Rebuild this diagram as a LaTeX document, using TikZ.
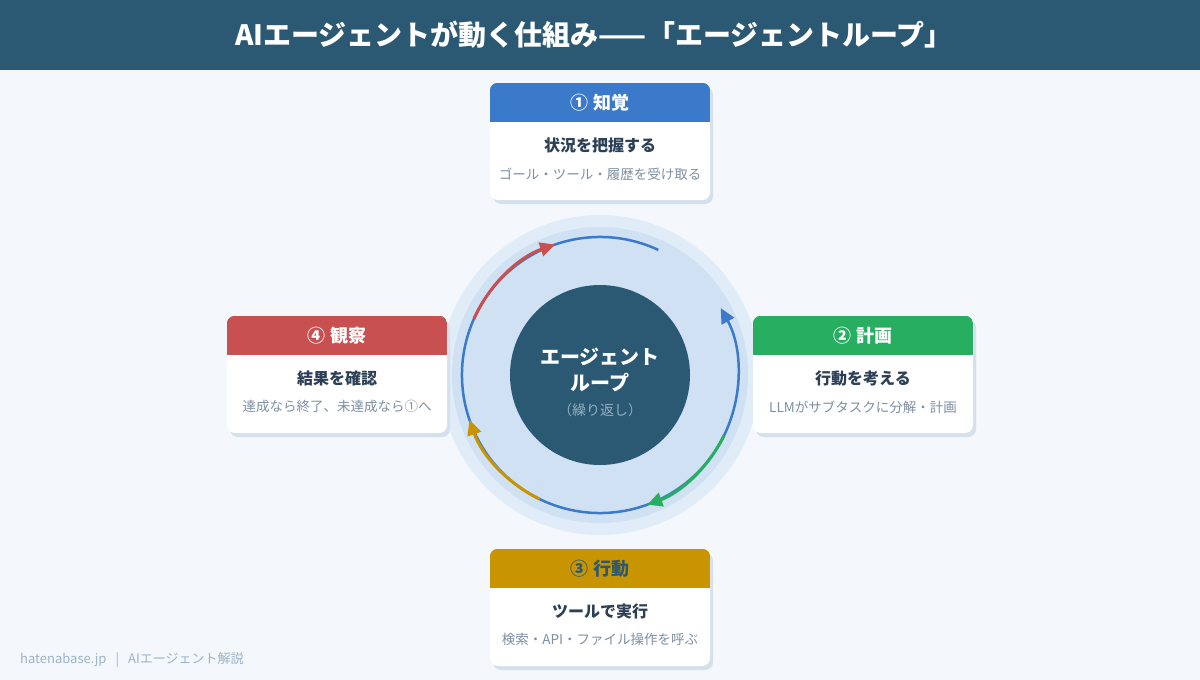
\documentclass[tikz,border=0pt]{standalone}
\usepackage{fontspec}
\setmainfont{Noto Sans CJK JP}
\usetikzlibrary{calc,arrows.meta}

\definecolor{headbg}{HTML}{2B5872}
\definecolor{pagebg}{HTML}{F4F8FC}
\definecolor{halo}{HTML}{E0ECF7}
\definecolor{ring}{HTML}{CFE1F2}
\definecolor{percblue}{HTML}{3B7ACB}
\definecolor{plangreen}{HTML}{27AE60}
\definecolor{actgold}{HTML}{C89500}
\definecolor{obsred}{HTML}{C85050}
\definecolor{bodyink}{HTML}{2B3F55}
\definecolor{subink}{HTML}{7D8FA1}
\definecolor{shade}{HTML}{D4E0EC}
\definecolor{footink}{HTML}{9DB2C6}
\definecolor{loopsub}{HTML}{93AEC4}

\tikzset{
  cardbox/.style={fill=white, rounded corners=8pt, minimum width=220pt, minimum height=117pt, inner sep=0pt},
  cardshade/.style={fill=shade, rounded corners=8pt, minimum width=220pt, minimum height=117pt, inner sep=0pt},
  cardtitle/.style={font=\fontsize{18}{21}\selectfont\bfseries},
  cardbody/.style={font=\fontsize{16}{19}\selectfont\bfseries, text=bodyink},
  cardsub/.style={font=\fontsize{13.5}{16}\selectfont, text=subink},
  looparc/.style={line width=3pt, -{Triangle[length=15pt, width=14pt]}}
}

% card: name, centre, colour, title colour, title, body, sub
\newcommand{\stepcard}[7]{%
  \node[cardshade] at ($#2+(3,4)$) {};
  \node[cardbox] (#1) at #2 {};
  \begin{scope}
    \clip[rounded corners=8pt] (#1.south west) rectangle (#1.north east);
    \fill[#3] (#1.north west) rectangle ([yshift=-39pt]#1.north east);
  \end{scope}
  \node[cardtitle, text=#4] (#1-t) at ([yshift=-19.5pt]#1.north) {#5};
  \node[cardbody] (#1-b) at ([yshift=-63pt]#1.north) {#6};
  \node[cardsub] (#1-s) at ([yshift=-91pt]#1.north) {#7};
}

\begin{document}
\begin{tikzpicture}[x=1pt, y=-1pt]
	\useasboundingbox (0,0) rectangle (1200,680);
	\fill[pagebg] (0,0) rectangle (1200,680);
	\fill[headbg] (0,0) rectangle (1200,70);
	\node[text=white, font=\fontsize{28}{32}\selectfont\bfseries] (title) at (594,35) {AIエージェントが動く仕組み——「エージェントループ」};

	% loop
	\coordinate (loopc) at (600,375);
	\fill[halo] (loopc) circle (160pt);
	\fill[ring] (loopc) circle (148pt);
	\draw[percblue, line width=2.5pt, -{Triangle[length=15pt, width=14pt]}] ([shift={(65:138pt)}]loopc) arc[start angle=65, end angle=389, radius=138pt];
	\draw[looparc, obsred] ([shift={(156:138pt)}]loopc) arc[start angle=156, end angle=109, radius=138pt];
	\draw[looparc, plangreen] ([shift={(-26:138pt)}]loopc) arc[start angle=-26, end angle=-70, radius=138pt];
	\draw[looparc, actgold] ([shift={(-116:138pt)}]loopc) arc[start angle=-116, end angle=-161, radius=138pt];
	\fill[headbg] (loopc) circle (90pt);
	\node[text=white, font=\fontsize{20}{26}\selectfont\bfseries, align=center] (loopname) at (600,370) {エージェント\\ループ};
	\node[text=loopsub, font=\fontsize{14}{17}\selectfont] (loopnote) at (600,410) {（繰り返し）};

	% cards
	\stepcard{perc}{(600,141.5)}{percblue}{white}{① 知覚}{状況を把握する}{ゴール・ツール・履歴を受け取る}
	\stepcard{plan}{(863,374.5)}{plangreen}{white}{② 計画}{行動を考える}{LLMがサブタスクに分解・計画}
	\stepcard{act}{(600,607.5)}{actgold}{headbg}{③ 行動}{ツールで実行}{検索・API・ファイル操作を呼ぶ}
	\stepcard{obs}{(337,374.5)}{obsred}{white}{④ 観察}{結果を確認}{達成なら終了、未達成なら①へ}

	\node[anchor=west, inner sep=0pt, text=footink, font=\fontsize{13}{16}\selectfont] (foot) at (20,660) {hatenabase.jp\hspace{0.7em}|\hspace{0.7em}AIエージェント解説};
\end{tikzpicture}
\end{document}
